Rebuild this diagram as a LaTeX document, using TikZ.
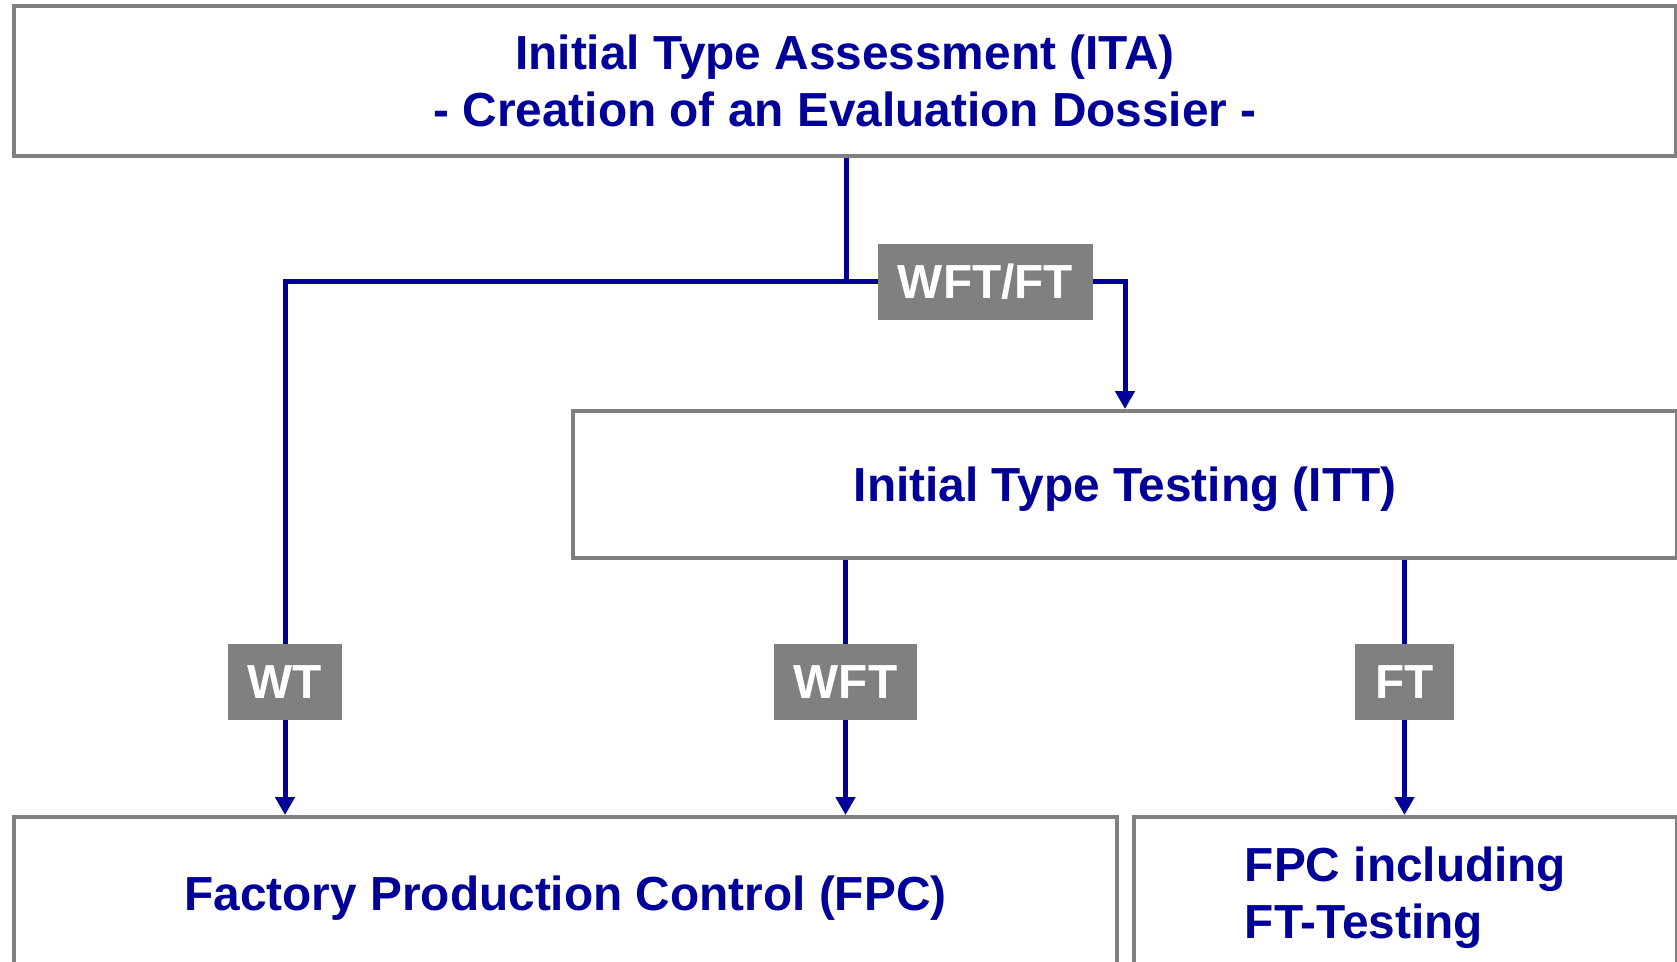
\documentclass[tikz,border=0pt]{standalone}
\usepackage{fontspec}
\setmainfont{Liberation Sans}
\usetikzlibrary{arrows.meta,positioning}
\definecolor{tagblue}{RGB}{0,0,153}
\definecolor{boxgray}{RGB}{128,128,128}
\tikzset{
  stage/.style={draw=boxgray,line width=0.08cm,align=center,inner sep=0pt,text depth=0pt,
                font=\fontsize{27.2}{32.6}\selectfont\bfseries,text=tagblue},
  tag/.style  ={fill=boxgray,text=white,inner xsep=0.4cm,inner ysep=0pt,minimum height=1.52cm,
                font=\fontsize{27.2}{32.6}\selectfont\bfseries},
  link/.style ={draw=tagblue,line width=0.1cm},
  flow/.style ={link,-{Triangle[length=0.36cm,width=0.38cm]}},
}

\begin{document}
\begin{tikzpicture}[x=0.02cm,y=-0.02cm]
  \useasboundingbox (0,0) rectangle (1677,962);
  \clip (0,0) rectangle (1677,962);
  % stages
  \node[stage,minimum width=33.24cm,minimum height=3cm] (ita) at (845,81)
    {Initial Type Assessment (ITA)\\- Creation of an Evaluation Dossier -};
  \node[stage,minimum width=22.08cm,minimum height=2.94cm] (itt) at (1125,484.5)
    {Initial Type Testing (ITT)};
  \node[stage,minimum width=22.06cm,minimum height=3.04cm] (fpc) at (565.5,893)
    {Factory Production Control (FPC)};
  \node[stage,align=left,minimum width=10.86cm,minimum height=3.04cm] (fpcft) at (1405.5,893)
    {FPC including\\FT-Testing};
  % tags
  \coordinate (split) at (846,282);
  \node[tag] (wftft) at (985.5,282) {WFT/FT};
  \node[tag] (wt)  at (285,682)    {WT};
  \node[tag] (wft) at (845.5,682)  {WFT};
  \node[tag] (ft)  at (1404.5,682) {FT};
  % connectors
  \draw[link] (split |- ita.south) -- (split);
  \draw[link] (wt.north) |- (split) -- (wftft.west);
  \draw[flow] (wt.south) -- (wt.south |- fpc.north);
  \draw[flow] (wftft.east) -| (itt.north);
  \draw[link] (wft.north |- itt.south) -- (wft.north);
  \draw[flow] (wft.south) -- (wft.south |- fpc.north);
  \draw[link] (ft.north |- itt.south) -- (ft.north);
  \draw[flow] (ft.south) -- (ft.south |- fpcft.north);
\end{tikzpicture}
\end{document}
